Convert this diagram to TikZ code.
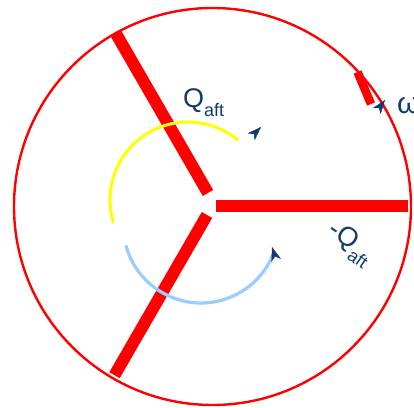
\documentclass[tikz,border=0pt]{standalone}
\usepackage{fontspec}
\setmainfont{Liberation Sans}
\usetikzlibrary{arrows.meta}
\definecolor{bladered}{RGB}{255,0,0}
\definecolor{navytext}{RGB}{15,60,110}
\definecolor{lightblu}{RGB}{153,204,255}
\definecolor{yel}{RGB}{255,255,0}
\tikzset{
  blade/.style={draw=bladered, line width=12pt, line cap=butt},
  rim/.style={draw=bladered, line width=2.4pt},
  navyhead/.style={draw=navytext, line width=0.5pt, -{Stealth[length=14pt,width=10pt,inset=4pt,color=navytext]}},
  lbl/.style={text=navytext, inner sep=0pt, outer sep=0pt},
}
\begin{document}
\begin{tikzpicture}[x=1pt,y=1pt]
\useasboundingbox (0,0) rectangle (414,407);
\begin{scope}
\clip (0,0) rectangle (414,407);
% rim
\coordinate (c) at (212.5,200.5);
\draw[rim] (c) circle[radius=198.5];
% blades
\coordinate (rS) at (216,201);
\coordinate (rE) at (408,201);
\coordinate (uS) at (208,214);
\coordinate (uE) at (115.5,374.2);
\coordinate (lS) at (207,192);
\coordinate (lE) at (114.5,31.8);
\draw[blade] (rS) -- (rE);
\draw[blade] (uS) -- (uE);
\draw[blade] (lS) -- (lE);
\coordinate (sS) at (357.5,335);
\coordinate (sE) at (371,303);
\draw[draw=bladered, line width=8.5pt] (sS) -- (sE);
% yellow arc (clockwise)
\draw[draw=yel, line width=3pt] ([shift={(197:78)}]188,207) arc[start angle=197, end angle=50, radius=78];
\coordinate (yT) at (260.3,279.3);
\coordinate (yH) at (261,280);
\draw[navyhead] (yT) -- (yH);
% blue arc (counter-clockwise)
\draw[draw=lightblu, line width=3.2pt] ([shift={(195:77.7)}]201,181.7) arc[start angle=195, end angle=337.5, radius=77.7];
\coordinate (bT) at (272.3,159.05);
\coordinate (bH) at (272,160);
\draw[navyhead] (bT) -- (bH);
% omega arrow
\coordinate (wT) at (384.4,306.2);
\coordinate (wH) at (385,307);
\draw[navyhead] (wT) -- (wH);
% labels
\node[lbl, anchor=base west] (qa) at (183,299) {\fontsize{27}{27}\selectfont Q\fontsize{18}{18}\selectfont\raisebox{-9pt}{aft}};
\node[lbl, anchor=center, rotate=-35] (mq) at (350,163) {\fontsize{27}{27}\selectfont -Q\fontsize{18}{18}\selectfont\raisebox{-9pt}{aft}};
\node[lbl, anchor=base west] (om) at (397,293) {\fontsize{30}{30}\selectfont ω};
\end{scope}
\end{tikzpicture}
\end{document}
